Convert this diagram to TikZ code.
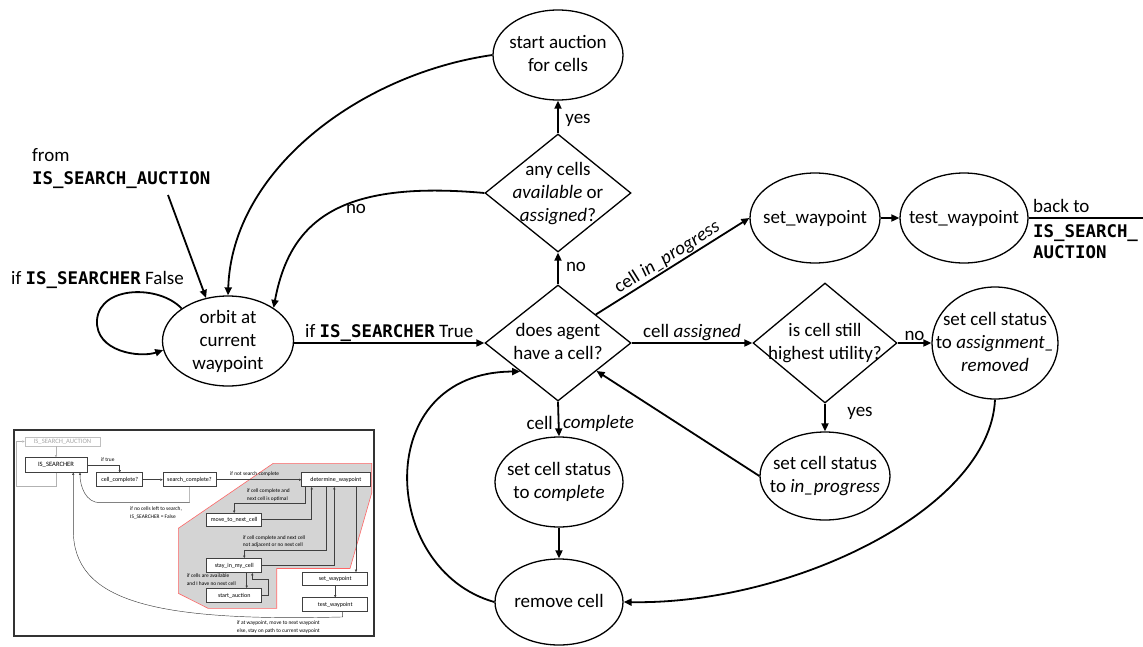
\documentclass[tikz,border=0pt]{standalone}
\usepackage{fontspec}
\setmainfont{Carlito}
\newfontfamily\codefont{DejaVu Sans Mono}
\usetikzlibrary{shapes.geometric,arrows.meta,calc}

% text sizes
\newcommand{\mainsize}{\fontsize{19}{23}\selectfont}
\newcommand{\insetsize}{\fontsize{5.4}{7.8}\selectfont}
\newcommand{\boxsize}{\fontsize{6}{7}\selectfont}
% bold code names
\newcommand{\kw}[1]{{\fontsize{17.4}{21}\selectfont\codefont\bfseries #1}}
% centred text that takes no room, so the shape size is set by its minimum size
\newcommand{\ctext}[1]{\smash{\makebox[0pt]{\raisebox{-4.75pt}{\begin{tabular}{@{}c@{}}#1\end{tabular}}}}}

\tikzset{
  state/.style={ellipse, draw, line width=1.3pt, inner sep=0pt, font=\mainsize},
  decision/.style={diamond, draw, line width=1.3pt, inner sep=0pt, font=\mainsize},
  flow/.style={line width=1.8pt, -{Triangle[length=8pt,width=7pt]}},
  plain/.style={line width=1.8pt},
  lbl/.style={font=\mainsize, inner sep=1pt},
  ibox/.style={draw=black!75, line width=0.5pt, fill=white, inner sep=0pt, font=\boxsize},
  iarrow/.style={draw=black!75, line width=0.45pt, -{Triangle[length=2.4pt,width=2.2pt]}},
  igray/.style={draw=black!30, line width=0.45pt, -{Triangle[length=2.4pt,width=2.2pt]}},
  ilbl/.style={font=\insetsize, inner sep=0pt, align=left, anchor=west},
}

\begin{document}
\begin{tikzpicture}[x=1pt, y=-1pt]
\useasboundingbox (0,0) rectangle (1143,646);

% ---------------- main state machine ----------------
\node[state, minimum width=130pt, minimum height=90pt] (auction) at (558,55) {\ctext{start auction\\for cells}};
\node[decision, minimum width=146pt, minimum height=118pt] (anycells) at (558,193) {\ctext{any cells\\\textit{available} or\\\textit{assigned}?}};
\node[decision, minimum width=146pt, minimum height=116pt] (agent) at (558,343) {\ctext{does agent\\have a cell?}};
\node[state, minimum width=131pt, minimum height=90pt] (orbit) at (228,341) {\ctext{orbit at\\current\\waypoint}};
\node[state, minimum width=128pt, minimum height=90pt] (complete) at (559,482) {\ctext{set cell status\\to \textit{complete}}};
\node[state, minimum width=128pt, minimum height=86pt] (remove) at (559,602) {\ctext{remove cell}};
\node[decision, minimum width=144pt, minimum height=120pt] (util) at (825,343) {\ctext{is cell still\\highest utility?}};
\node[state, minimum width=130pt, minimum height=88pt] (inprog) at (825,476) {\ctext{set cell status\\to \textit{in\_progress}}};
\node[state, minimum width=126pt, minimum height=112pt] (aremoved) at (995,343) {\ctext{set cell status\\to \textit{assignment\_}\\\textit{removed}}};
\node[state, minimum width=130pt, minimum height=90pt] (setwp) at (815,218) {\ctext{set\_waypoint}};
\node[state, minimum width=128pt, minimum height=90pt] (testwp) at (964,218) {\ctext{test\_waypoint}};

% free ends
\coordinate (fromsrc) at (168,195);
\coordinate (exitpt) at (1143,218);

% labels
\node[lbl, align=left, anchor=west] at (31,168.5) {from\\\kw{IS\_SEARCH\_AUCTION}};
\node[lbl, anchor=west] at (10,280) {if \kw{IS\_SEARCHER} False};
\node[lbl] at (356,209) {no};
\node[lbl] at (578,120) {yes};
\node[lbl] at (576,267) {no};
\node[lbl] at (860,413) {yes};
\node[lbl, anchor=east] at (554,423) {cell};
\node[lbl, anchor=west] at (562,423) {\textit{complete}};
\node[lbl, anchor=west] at (1032,206) {back to};
\node[lbl, anchor=west, align=left, font=\fontsize{17.4}{21}\selectfont] at (1032,242) {\kw{IS\_SEARCH\_}\\\kw{AUCTION}};

% connectors
\draw[flow] (anycells.north) -- (auction.south);
\draw[flow] (agent.north) -- (anycells.south);
\draw[flow] (auction.west) .. controls (360,74) and (232,170) .. (orbit.north);
\draw[flow] (anycells.west) .. controls (340,180) and (290,220) .. (orbit.36);
\draw[flow] (fromsrc) -- (orbit.117);
\draw[flow] (orbit.145) .. controls (160,285) and (100,285) .. (97,320) .. controls (95,352) and (140,358) .. (orbit.188);
\draw[flow] (agent.west -| orbit.east) -- node[lbl, above] {if \kw{IS\_SEARCHER} True} (agent.west);
\draw[flow] (agent.east) -- node[lbl, above] {cell \textit{assigned}} (util.west);
\draw[flow] (util.east) -- node[lbl, above] {no} (aremoved.west);
\draw[flow] (util.south) -- (inprog.north);
\draw[flow] (inprog.west) -- (agent.-36);
\draw[flow] (agent.37) -- node[lbl, sloped, above] {cell \textit{in\_progress}} (setwp.west);
\draw[flow] (setwp.east) -- (testwp.west);
\draw[plain] (testwp.east) -- (exitpt);
\draw[flow] (agent.south) -- (complete.north);
\draw[flow] (complete.south) -- (remove.north);
\draw[flow] (aremoved.south) .. controls (990,510) and (790,605) .. (remove.east);
\draw[flow] (remove.west) .. controls (380,570) and (370,372) .. (agent.217);

% ---------------- overview chart ----------------
\draw[black!80, line width=1.2pt, fill=white] (14,430) rectangle (374,636);
\filldraw[fill=black!17, draw=red!60, line width=0.6pt]
  (273.3,463.3) -- (371.7,463.3) -- (371.7,493) -- (350,568.5) -- (276.7,568.5)
  -- (276.7,608.3) -- (208,608.3) -- (178.3,593.3) -- (178.3,528.3) -- cycle;

\node[ibox, draw=black!25, text=black!35, minimum width=75pt, minimum height=9pt, font=\fontsize{6.6}{7}\selectfont] (ISA) at (62.5,441.5) {IS\_SEARCH\_AUCTION};
\node[ibox, minimum width=62pt, minimum height=14.6pt, font=\fontsize{6.6}{7}\selectfont] (ISS) at (56,465) {IS\_SEARCHER};
\node[ibox, minimum width=46pt, minimum height=14pt] (cc) at (119.7,479.7) {cell\_complete?};
\node[ibox, minimum width=53pt, minimum height=14pt] (sc) at (189.5,479.7) {search\_complete?};
\node[ibox, minimum width=68.3pt, minimum height=14pt] (dw) at (335.85,479.7) {determine\_waypoint};
\node[ibox, minimum width=55pt, minimum height=12.7pt] (mtnc) at (234.2,519.65) {move\_to\_next\_cell};
\node[ibox, minimum width=55pt, minimum height=14.4pt] (simc) at (234.2,565.5) {stay\_in\_my\_cell};
\node[ibox, minimum width=55pt, minimum height=14.4pt] (sa) at (234.2,595.5) {start\_auction};
\node[ibox, minimum width=65pt, minimum height=13.4pt] (sw) at (335.2,579) {set\_waypoint};
\node[ibox, minimum width=65pt, minimum height=14pt] (tw) at (335.2,604.7) {test\_waypoint};

\draw[igray] (ISS.south) -- ++(0,13.7) -| ($(ISA.west)+(-9,0)$) -- (ISA.west);
\draw[igray] (ISA.south -| ISS.north) -- (ISS.north);
\draw[iarrow] (ISS.east) -| (cc.north);
\node[ilbl] at (101,460) {if true};
\draw[iarrow] (cc.east) -- (sc.west);
\draw[iarrow] (sc.east) -- (dw.west);
\node[ilbl] at (230,474) {if not search complete};
\draw[iarrow] (sc.south) |- (100,502.7) to[out=180,in=-90] ($(ISS.south)+(24,0)$);
\node[ilbl] at (130,513) {if no cells left to search,\\IS\_SEARCHER = False};
\draw[iarrow] ($(dw.south)+(-30.85,0)$) -- ++(0,16) -| (mtnc.north);
\node[ilbl] at (246.7,495.2) {if cell complete and\\next cell is optimal};
\draw[iarrow] (mtnc.east) -| ($(dw.south)+(-24.15,0)$);
\draw[iarrow] ($(dw.south)+(-9.15,0)$) -- ++(0,63.3) -| ($(simc.north)+(10.1,0)$);
\node[ilbl] at (242.7,541.5) {if cell complete and next cell\\not adjacent or no next cell};
\draw[iarrow] (simc.east) -| ($(dw.south)+(-1.5,0)$);
\draw[iarrow] ($(simc.south)+(12.5,0)$) -- ($(sa.north)+(12.5,0)$);
\draw[iarrow] (sa.east) -| (268.3,579.3) -| ($(simc.south)+(18.1,0)$);
\node[ilbl] at (186.7,579.7) {if cells are available\\and I have no next cell};
\draw[iarrow] ($(dw.south)+(20.15,0)$) -- ($(sw.north)+(20.8,0)$);
\draw[iarrow] (sw.south) -- (tw.north);
\draw[iarrow] ($(tw.south)+(7.5,0)$) -- ++(0,5) .. controls (150,622) and (73.3,600) .. (73.3,530) -- ($(ISS.south)+(17.3,0)$);
\node[ilbl] at (236.7,627.2) {if at waypoint, move to next waypoint\\else, stay on path to current waypoint};
\end{tikzpicture}
\end{document}
